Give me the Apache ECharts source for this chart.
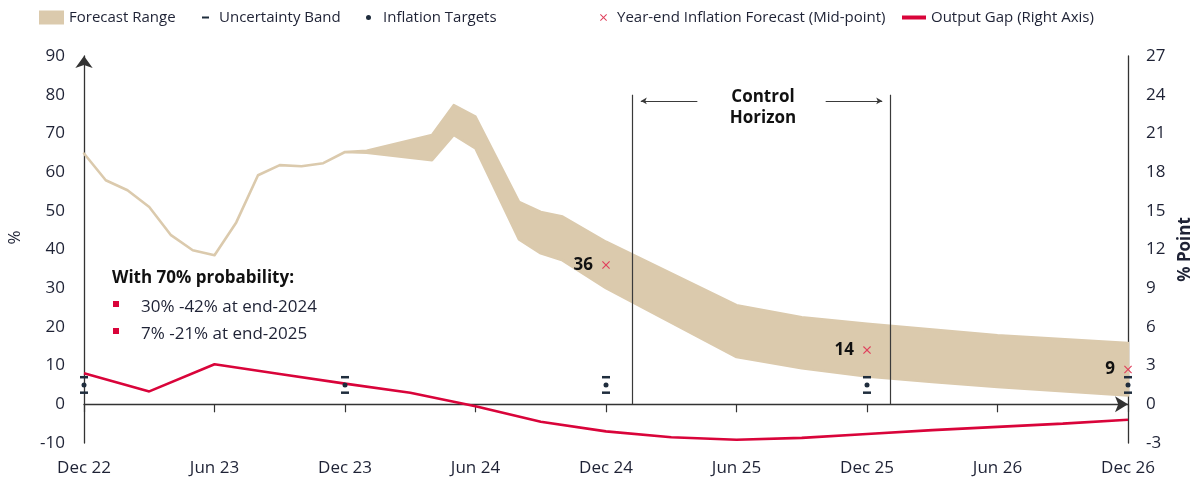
<!DOCTYPE html>
<html>
<head>
<meta charset="utf-8">
<script src="https://cdn.jsdelivr.net/npm/echarts@6/dist/echarts.min.js"></script>
<style>html,body{margin:0;padding:0;background:#fff;}#chart{width:1197px;height:483px;}</style>
</head>
<body>
<div id="chart"></div>
<script>
// ---- data ----
const tickLabels = ['Dec 22','Jun 23','Dec 23','Jun 24','Dec 24','Jun 25','Dec 25','Jun 26','Dec 26'];
// month index from Dec 2022 (0) to Dec 2026 (48)
const bandMonths = [0,1,2,3,4,5,6,7,8,9,10,11,12,13,16,17,18,20,21,22,24,30,33,36,39,42,48];
const bandLow  = [64.8,57.9,55.3,51.0,43.7,39.8,38.5,47.0,59.2,61.8,61.5,62.3,65.2,65.0,63.1,69.6,66.1,42.6,39.0,37.2,30.0,12.2,9.3,7.2,5.8,4.5,2.3];
const bandHigh = [64.8,57.9,55.3,51.0,43.7,39.8,38.5,47.0,59.2,61.8,61.5,62.3,65.2,65.5,69.6,77.3,74.3,52.3,49.7,48.5,42.0,25.6,22.5,20.8,19.3,17.8,15.8];
const gapMonths = [0,3,6,9,12,15,18,21,24,27,30,33,36,39,42,45,48];
const outputGap = [2.4,1.0,3.1,2.35,1.6,0.9,-0.15,-1.35,-2.1,-2.55,-2.75,-2.6,-2.3,-2.0,-1.75,-1.5,-1.2];
const targetMonths = [0,12,24,36,48];
const inflationTargets = [5,5,5,5,5];
const uncertaintyLow = [3,3,3,3,3];
const uncertaintyHigh = [7,7,7,7,7];
const forecastMonths = [24,36,48];
const forecastMid = [36,14,9];

// ---- styles ----
const FONT = 'Open Sans';
const TXT = '#1e2235';
const BAND = '#dbcaad';
const RED = '#d9043a';
const XRED = '#e0405c';
const DARK = '#1f2d3d';
const AX = '#333333';
const XPATH = 'path://M0,1L1,0L5,4L9,0L10,1L6,5L10,9L9,10L5,6L1,10L0,9L4,5Z';

const chart = echarts.init(document.getElementById('chart'), null, {renderer:'canvas'});

const uncData = [];
targetMonths.forEach((m,i)=>{ uncData.push([m, uncertaintyLow[i]]); uncData.push([m, uncertaintyHigh[i]]); });

const legendBase = {orient:'horizontal', top:10, padding:0, selectedMode:false, textStyle:{fontFamily:FONT, fontSize:15, color:TXT}};

const option = {
  animation:false,
  textStyle:{fontFamily:FONT},
  grid:{left:84, right:69, top:56, bottom:40, containLabel:false, outerBoundsMode:'none'},
  legend:[
    Object.assign({}, legendBase, {left:39, data:[{name:'Forecast Range', icon:'rect'}], itemWidth:25, itemHeight:14}),
    Object.assign({}, legendBase, {left:202, data:[{name:'Uncertainty Band', icon:'rect'}], itemWidth:7, itemHeight:2,
      textStyle:{fontFamily:FONT, fontSize:15, color:TXT, padding:[0,0,0,5]}}),
    Object.assign({}, legendBase, {left:366, data:[{name:'Inflation Targets', icon:'circle'}], itemWidth:5, itemHeight:5,
      textStyle:{fontFamily:FONT, fontSize:15, color:TXT, padding:[0,0,0,7]}}),
    Object.assign({}, legendBase, {left:600, data:[{name:'Year-end Inflation Forecast (Mid-point)', icon:XPATH}], itemWidth:7, itemHeight:7,
      textStyle:{fontFamily:FONT, fontSize:15, color:TXT, padding:[0,0,0,5]}}),
    Object.assign({}, legendBase, {left:902, data:[{name:'Output Gap (Right Axis)', icon:'rect'}], itemWidth:24, itemHeight:4})
  ],
  xAxis:[
    {type:'value', min:0, max:48, interval:6, position:'bottom',
     axisLine:{show:false, onZero:false}, axisTick:{show:false}, splitLine:{show:false},
     axisLabel:{fontSize:17, color:TXT, margin:17, formatter:(v)=>tickLabels[Math.round(v/6)]}},
    {type:'value', min:0, max:48, interval:6, position:'top',
     axisLine:{show:true, onZero:true, lineStyle:{color:AX, width:1.3}, symbol:['none','arrow'], symbolSize:[12,13], symbolOffset:[0,0]},
     axisTick:{show:true, inside:true, length:8, lineStyle:{color:'#333', width:1.2}},
     axisLabel:{show:false}, splitLine:{show:false}}
  ],
  yAxis:[
    {type:'value', min:-10, max:90, interval:10, position:'left',
     axisLine:{show:true, onZero:false, lineStyle:{color:AX, width:1.3}, symbol:['none','arrow'], symbolSize:[13,12], symbolOffset:[0,0]},
     axisTick:{show:false}, splitLine:{show:false},
     axisLabel:{fontSize:17, color:TXT, margin:19},
     name:'%', nameLocation:'middle', nameGap:60, nameRotate:90,
     nameTextStyle:{fontSize:17, color:TXT, padding:[0,0,0,24]}},
    {type:'value', min:-3, max:27, interval:3, position:'right',
     axisLine:{show:true, onZero:false, lineStyle:{color:AX, width:1.3}},
     axisTick:{show:false}, splitLine:{show:false},
     axisLabel:{fontSize:17, color:TXT, margin:18},
     name:'% Point', nameLocation:'middle', nameGap:49, nameRotate:90,
     nameTextStyle:{fontSize:17, fontWeight:'bold', color:TXT}}
  ],
  series:[
    {name:'Forecast Range', type:'custom', xAxisIndex:0, yAxisIndex:0, z:1,
     itemStyle:{color:BAND},
     data: bandMonths.map((m,i)=>[m, bandLow[i], bandHigh[i]]),
     encode:{x:0, y:[1,2]},
     renderItem:function(params, api){
       if (params.dataIndex !== 0) return null;
       const top = bandMonths.map((m,i)=>api.coord([m, bandHigh[i]]));
       const bot = bandMonths.map((m,i)=>api.coord([m, bandLow[i]])).reverse();
       return {type:'polygon', shape:{points: top.concat(bot)},
               style:{fill:BAND, stroke:BAND, lineWidth:2.6, lineJoin:'round'}};
     }},
    {name:'Output Gap (Right Axis)', type:'line', xAxisIndex:0, yAxisIndex:1, z:3,
     data: gapMonths.map((m,i)=>[m, outputGap[i]]), showSymbol:false, symbol:'none',
     lineStyle:{color:RED, width:2.6}, itemStyle:{color:RED}},
    {name:'Uncertainty Band', type:'scatter', xAxisIndex:0, yAxisIndex:0, z:4,
     data: uncData, symbol:'rect', symbolSize:[8,2.5], itemStyle:{color:DARK, opacity:1}},
    {name:'Inflation Targets', type:'scatter', xAxisIndex:0, yAxisIndex:0, z:4,
     data: targetMonths.map((m,i)=>[m, inflationTargets[i]]), symbol:'circle', symbolSize:5, itemStyle:{color:DARK, opacity:1}},
    {name:'Year-end Inflation Forecast (Mid-point)', type:'scatter', xAxisIndex:0, yAxisIndex:0, z:5,
     data: forecastMonths.map((m,i)=>[m, forecastMid[i]]), symbol:XPATH, symbolSize:8,
     itemStyle:{color:XRED, opacity:1},
     label:{show:true, position:'left', distance:9, fontFamily:FONT, fontSize:17, fontWeight:'bold', color:'#111',
            formatter:(p)=>String(p.value[1])},
     markLine:{silent:true, symbol:'none', label:{show:false},
       lineStyle:{color:'#3a3a3a', width:1.2, type:'solid'},
       data:[
         [{coord:[25.2,0]},{coord:[25.2,80]}],
         [{coord:[37.05,0]},{coord:[37.05,80]}],
         [{coord:[28.2,78.4], symbol:'none'},{coord:[25.6,78.4], symbol:'arrow', symbolSize:[5,6]}],
         [{coord:[34.1,78.4], symbol:'none'},{coord:[36.7,78.4], symbol:'arrow', symbolSize:[5,6]}]
       ]}}
  ],
  graphic:[
    {type:'text', x:763, y:108, style:{text:'Control\nHorizon', font:'bold 17px "Open Sans"', fill:'#111', align:'center', verticalAlign:'middle', lineHeight:21}},
    {type:'text', x:112, y:278, style:{text:'With 70% probability:', font:'bold 17px "Open Sans"', fill:'#111', verticalAlign:'middle'}},
    {type:'rect', shape:{x:113, y:301, width:6, height:6}, style:{fill:RED}},
    {type:'text', x:141, y:307, style:{text:'30% -42% at end-2024', font:'17px "Open Sans"', fill:TXT, verticalAlign:'middle'}},
    {type:'rect', shape:{x:113, y:328, width:6, height:6}, style:{fill:RED}},
    {type:'text', x:141, y:334, style:{text:'7% -21% at end-2025', font:'17px "Open Sans"', fill:TXT, verticalAlign:'middle'}}
  ]
};
chart.setOption(option);
</script>
</body>
</html>
